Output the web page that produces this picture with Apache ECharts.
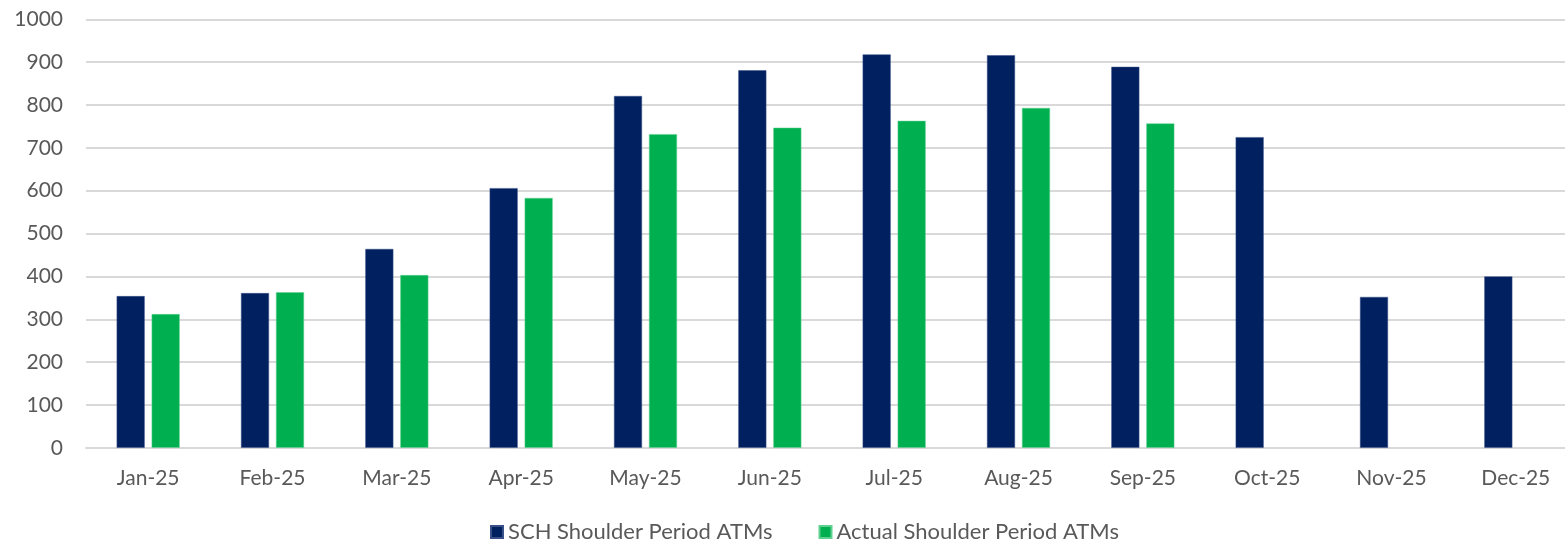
<!DOCTYPE html>
<html>
<head>
<meta charset="utf-8">
<script src="https://cdn.jsdelivr.net/npm/echarts@6/dist/echarts.min.js"></script>
<style>
html,body{margin:0;padding:0;background:#fff;overflow:hidden;}
#chart{width:1565px;height:541px;}
</style>
</head>
<body>
<div id="chart"></div>
<script>
const categories = ['Jan-25','Feb-25','Mar-25','Apr-25','May-25','Jun-25','Jul-25','Aug-25','Sep-25','Oct-25','Nov-25','Dec-25'];
const schValues = [354, 361, 464, 606, 821, 881, 918, 916, 889, 725, 352, 400];
const actualValues = [312, 363, 403, 583, 732, 747, 763, 793, 757, null, null, null];
const seriesNames = ['SCH Shoulder Period ATMs', 'Actual Shoulder Period ATMs'];

const chart = echarts.init(document.getElementById('chart'));
const font = 'Lato, "Open Sans", sans-serif';
chart.setOption({
  animation: false,
  textStyle: {fontFamily: font},
  grid: {left: 86, width: 1492, top: 19.3, bottom: 93.2, containLabel: false, outerBoundsMode: 'none'},
  legend: {
    top: 516, left: 485,
    itemWidth: 12, itemHeight: 12, itemGap: 46,
    icon: 'rect',
    textStyle: {fontSize: 22, color: '#595959', fontFamily: font},
    data: seriesNames
  },
  xAxis: {
    type: 'category', data: categories,
    axisLine: {lineStyle: {color: '#d9d9d9', width: 2}},
    axisTick: {show: false},
    axisLabel: {fontSize: 21, color: '#595959', margin: 20, fontFamily: font}
  },
  yAxis: {
    type: 'value', min: 0, max: 1000, interval: 100,
    axisLine: {show: false}, axisTick: {show: false},
    splitLine: {lineStyle: {color: '#d9d9d9', width: 2}},
    axisLabel: {fontSize: 21, color: '#595959', margin: 23, fontFamily: font,
      formatter: function (v) { return String(v); }}
  },
  series: [
    {name: seriesNames[0], type: 'bar', data: schValues, barWidth: 28, barGap: '25%',
     itemStyle: {color: '#002060', borderColor: '#3a5088', borderWidth: 0.5}},
    {name: seriesNames[1], type: 'bar', data: actualValues, barWidth: 28,
     itemStyle: {color: '#00b050', borderColor: '#5fd08f', borderWidth: 0.5}}
  ]
});
</script>
</body>
</html>
